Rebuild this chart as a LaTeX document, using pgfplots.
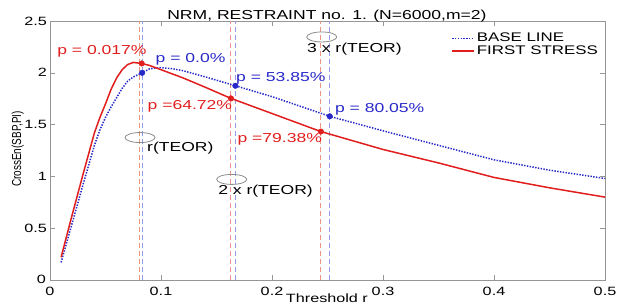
\documentclass[border=0pt]{standalone}
\usepackage{fontspec}
\setmainfont{Liberation Sans}[FakeStretch=1.35]
\newfontfamily\ylabfont{Liberation Sans}
\usepackage{pgfplots}
\pgfplotsset{compat=1.18}
\definecolor{cred}{RGB}{225,30,30}
\definecolor{cblue}{RGB}{40,40,200}
\definecolor{lred}{RGB}{232,150,130}
\definecolor{lblue}{RGB}{150,155,230}
\definecolor{axgray}{RGB}{150,150,150}
\definecolor{egray}{RGB}{140,140,140}
\begin{document}
\begin{tikzpicture}
\begin{axis}[
  scale only axis, width=555pt, height=259pt,
  xmin=0, xmax=0.5, ymin=0, ymax=2.5,
  xtick={0,0.1,0.2,0.3,0.4,0.5},
  ytick={0,0.5,1,1.5,2,2.5},
  xticklabels={}, yticklabels={},
  axis line style={axgray}, tick style={axgray, line width=0.6pt},
  tick align=inside, major tick length=5pt,
  legend style={draw=none, fill=none, at={(1,1)}, anchor=north east, xshift=-4pt, yshift=-9pt,
    font=\fontsize{12.5}{13}\selectfont, row sep=-1.5pt, inner sep=1pt},
  legend cell align=left,
  legend image code/.code={\draw[mark repeat=2,mark phase=2,#1] plot coordinates {(0pt,0pt) (11pt,0pt) (22pt,0pt)};},
  clip=false,
]
% vertical dashed reference lines
\addplot[lred, line width=1.1pt, dash pattern=on 5pt off 3pt, forget plot] coordinates {(0.081,0) (0.081,2.5)};
\addplot[lblue, line width=1.1pt, dash pattern=on 5pt off 3pt, forget plot] coordinates {(0.0835,0) (0.0835,2.5)};
\addplot[lred, line width=1.1pt, dash pattern=on 5pt off 3pt, forget plot] coordinates {(0.163,0) (0.163,2.5)};
\addplot[lblue, line width=1.1pt, dash pattern=on 5pt off 3pt, forget plot] coordinates {(0.167,0) (0.167,2.5)};
\addplot[lred, line width=1.1pt, dash pattern=on 5pt off 3pt, forget plot] coordinates {(0.244,0) (0.244,2.5)};
\addplot[lblue, line width=1.1pt, dash pattern=on 5pt off 3pt, forget plot] coordinates {(0.252,0) (0.252,2.5)};

\addplot[color=cblue, line width=1.5pt, dash pattern=on 1.4pt off 1.4pt] table {
0.010 0.17
0.020 0.55
0.030 0.93
0.040 1.30
0.045 1.45
0.050 1.57
0.055 1.67
0.060 1.76
0.065 1.85
0.070 1.92
0.075 1.96
0.083 2.00
0.090 2.04
0.100 2.05
0.110 2.04
0.120 2.02
0.140 1.96
0.167 1.875
0.200 1.77
0.252 1.58
0.300 1.44
0.350 1.30
0.400 1.16
0.450 1.06
0.500 0.98
};
\addlegendentry{BASE LINE}
\addplot[color=cred, line width=1.5pt] table {
0.010 0.22
0.020 0.63
0.030 1.03
0.040 1.42
0.045 1.57
0.050 1.70
0.055 1.84
0.060 1.95
0.065 2.03
0.070 2.08
0.075 2.10
0.0826 2.09
0.090 2.07
0.100 2.03
0.120 1.95
0.140 1.86
0.163 1.753
0.200 1.607
0.244 1.433
0.300 1.26
0.350 1.13
0.400 0.99
0.450 0.89
0.500 0.80
};
\addlegendentry{FIRST STRESS}

\addplot[only marks, mark=*, mark size=2.8pt, cred, forget plot] coordinates {(0.0826,2.09) (0.163,1.753) (0.244,1.433)};
\addplot[only marks, mark=*, mark size=2.8pt, cblue, forget plot] coordinates {(0.083,2.00) (0.167,1.875) (0.252,1.58)};

% tick labels
\begin{scope}[every node/.style={inner sep=0pt, font=\fontsize{12}{13}\selectfont}]
\node[anchor=north] at (axis cs:0,0) [yshift=-7pt] {0};
\node[anchor=north] at (axis cs:0.1,0) [yshift=-7pt] {0.1};
\node[anchor=north] at (axis cs:0.2,0) [yshift=-7pt] {0.2};
\node[anchor=north] at (axis cs:0.3,0) [yshift=-7pt] {0.3};
\node[anchor=north] at (axis cs:0.4,0) [yshift=-7pt] {0.4};
\node[anchor=north] at (axis cs:0.5,0) [yshift=-7pt] {0.5};
\node[anchor=east] at (axis cs:0,0) [xshift=-4pt, yshift=1pt] {0};
\node[anchor=east] at (axis cs:0,0.5) [xshift=-3pt] {0.5};
\node[anchor=east] at (axis cs:0,1) [xshift=-3pt] {1};
\node[anchor=east] at (axis cs:0,1.5) [xshift=-3pt] {1.5};
\node[anchor=east] at (axis cs:0,2) [xshift=-3pt] {2};
\node[anchor=east] at (axis cs:0,2.5) [xshift=-3pt] {2.5};
\end{scope}

% title and axis labels
\node[anchor=base, inner sep=0pt, font=\fontsize{13}{15}\selectfont] at (rel axis cs:0.499,1) [yshift=2pt] {NRM, RESTRAINT no. 1. (N=6000,m=2)};
\node[anchor=base, inner sep=0pt, font=\fontsize{12}{14}\selectfont] at (rel axis cs:0.499,0) [yshift=-22.7pt] {Threshold r};
\node[rotate=90, inner sep=0pt] at (rel axis cs:-0.058,0.506) {\scalebox{1}[1.3]{\fontsize{10}{12}\ylabfont CrossEn(SBP,PI)}};

% ellipses
\draw[egray, line width=0.8pt] (axis cs:0.0811,1.375) ellipse [x radius=15pt, y radius=5pt];
\draw[egray, line width=0.8pt] (axis cs:0.1637,0.971) ellipse [x radius=15pt, y radius=5pt];
\draw[egray, line width=0.8pt] (axis cs:0.2448,2.346) ellipse [x radius=15pt, y radius=5pt];

\node[anchor=west, inner sep=0pt, font=\fontsize{13}{15}\selectfont] at (axis cs:0.0874,1.27) {r(TEOR)};
\node[anchor=west, inner sep=0pt, font=\fontsize{13}{15}\selectfont] at (axis cs:0.1514,0.856) {2 x r(TEOR)};
\node[anchor=west, inner sep=0pt, font=\fontsize{13}{15}\selectfont] at (axis cs:0.2315,2.23) {3 x r(TEOR)};

% p-value annotations
\node[cred, inner sep=0pt, font=\fontsize{13}{15}\selectfont] at (axis cs:0.0468,2.21) {p = 0.017\%};
\node[cblue, inner sep=0pt, font=\fontsize{13}{15}\selectfont] at (axis cs:0.1266,2.135) {p = 0.0\%};
\node[cblue, inner sep=0pt, font=\fontsize{13}{15}\selectfont] at (axis cs:0.208,1.95) {p = 53.85\%};
\node[cred, inner sep=0pt, font=\fontsize{13}{15}\selectfont] at (axis cs:0.126,1.68) {p =64.72\%};
\node[cred, inner sep=0pt, font=\fontsize{13}{15}\selectfont] at (axis cs:0.207,1.356) {p =79.38\%};
\node[cblue, inner sep=0pt, font=\fontsize{13}{15}\selectfont] at (axis cs:0.297,1.644) {p = 80.05\%};
\end{axis}
\pgfresetboundingbox
\useasboundingbox ([shift={(-50pt,-23pt)}]current axis.south west) rectangle ([shift={(29pt,21pt)}]current axis.north east);
\end{tikzpicture}
\end{document}
